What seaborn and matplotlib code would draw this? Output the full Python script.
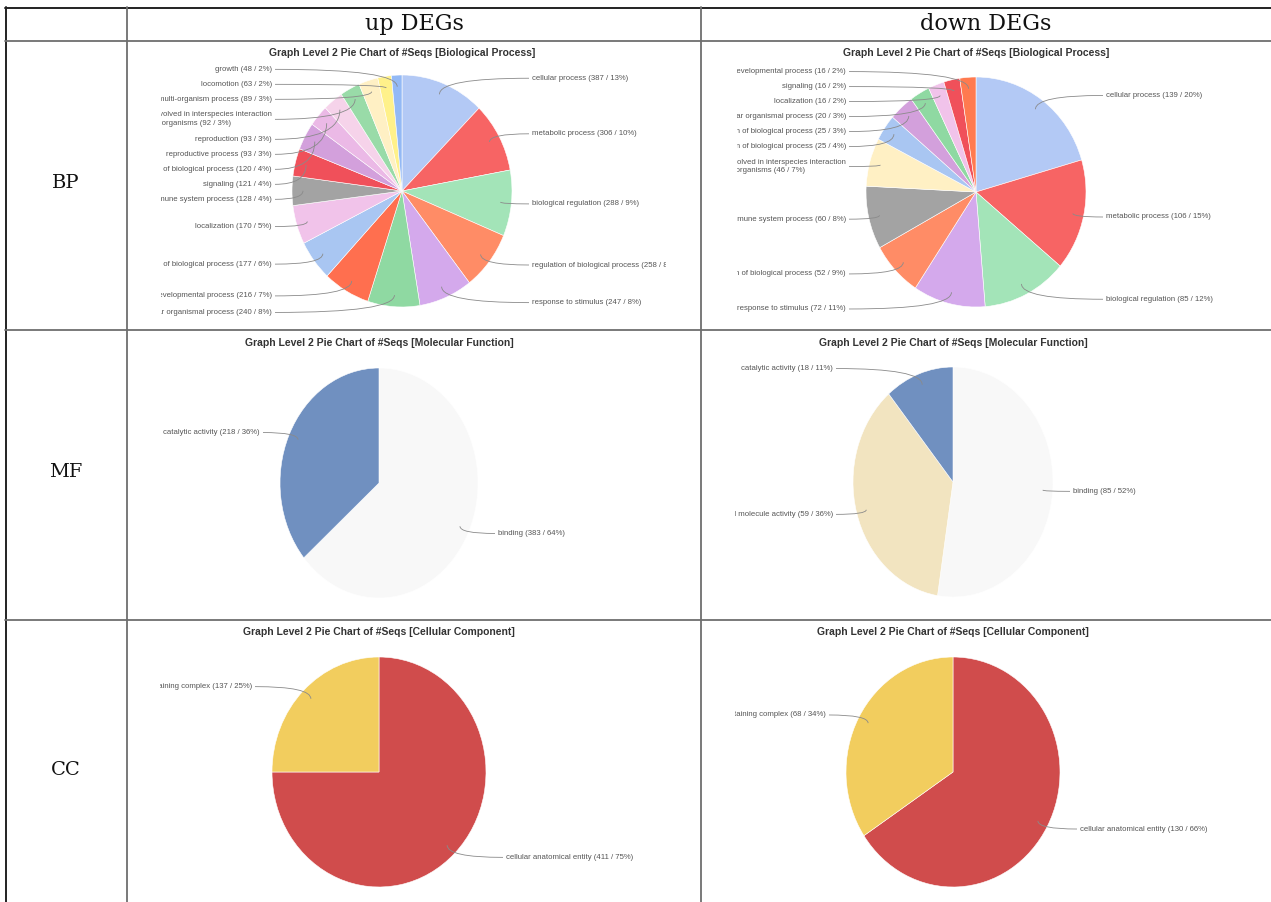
import numpy as np
import matplotlib
matplotlib.use("Agg")
import matplotlib.pyplot as plt
from matplotlib.path import Path
from matplotlib.patches import PathPatch
import seaborn as sns

W, H = 1271, 902

# ---------------------------------------------------------------- data
bp_up_terms = ["cellular process", "metabolic process", "biological regulation",
               "regulation of biological process", "response to stimulus",
               "multicellular organismal process", "developmental process",
               "negative regulation of biological process", "localization",
               "immune system process", "signaling",
               "positive regulation of biological process", "reproductive process",
               "reproduction",
               "biological process involved in interspecies interaction\nbetween organisms",
               "multi-organism process", "locomotion", "growth"]
bp_up_counts = [387, 306, 288, 258, 247, 240, 216, 177, 170, 128, 121, 120, 93, 93, 92, 89, 63, 48]
bp_up_pcts = [13, 10, 9, 8, 8, 8, 7, 6, 5, 4, 4, 4, 3, 3, 3, 3, 2, 2]

bp_down_terms = ["cellular process", "metabolic process", "biological regulation",
                 "response to stimulus", "regulation of biological process",
                 "immune system process",
                 "biological process involved in interspecies interaction\nbetween organisms",
                 "negative regulation of biological process",
                 "positive regulation of biological process",
                 "multicellular organismal process", "localization", "signaling",
                 "developmental process"]
bp_down_counts = [139, 106, 85, 72, 52, 60, 46, 25, 25, 20, 16, 16, 16]
bp_down_pcts = [20, 15, 12, 11, 9, 8, 7, 4, 3, 3, 2, 2, 2]

mf_up_terms = ["binding", "catalytic activity"]
mf_up_counts = [383, 218]
mf_up_pcts = [64, 36]

mf_down_terms = ["binding", "structural molecule activity", "catalytic activity"]
mf_down_counts = [85, 59, 18]
mf_down_pcts = [52, 36, 11]

cc_up_terms = ["cellular anatomical entity", "protein-containing complex"]
cc_up_counts = [411, 137]
cc_up_pcts = [75, 25]

cc_down_terms = ["cellular anatomical entity", "protein-containing complex"]
cc_down_counts = [130, 68]
cc_down_pcts = [66, 34]

col_headers = ["up DEGs", "down DEGs"]
row_headers = ["BP", "MF", "CC"]
titles = ["Graph Level 2 Pie Chart of #Seqs [Biological Process]",
          "Graph Level 2 Pie Chart of #Seqs [Molecular Function]",
          "Graph Level 2 Pie Chart of #Seqs [Cellular Component]"]

# ---------------------------------------------------------------- colours
bp_up_colors = ["#b3c9f5", "#f76464", "#a3e4b8", "#ff8c66", "#d4a9ec", "#8fd9a2",
                "#ff6f4f", "#a9c6f2", "#f1c3ea", "#a3a3a3", "#f0505a", "#d3a0dc",
                "#ebb9e6", "#f6d3ea", "#99dba8", "#fff0c4", "#fff18a", "#93b9f5"]
bp_down_colors = ["#b3c9f5", "#f76464", "#a3e4b8", "#d4a9ec", "#ff8c66", "#a3a3a3",
                  "#fff0c4", "#a9c6f2", "#d3a0dc", "#8fd9a2", "#f1c3ea", "#f0505a",
                  "#ff7a4f"]
mf_up_colors = ["#f8f8f8", "#7090c0"]
mf_down_colors = ["#f8f8f8", "#f2e4c0", "#7090c0"]
cc_colors = ["#d04c4c", "#f2cd5e"]

sns.set_theme(style="white")
plt.rcParams['font.family'] = ['Liberation Sans', 'DejaVu Sans']

fig = plt.figure(figsize=(W / 100, H / 100), dpi=100)


def px_axes(x0, y0, x1, y1):
    return fig.add_axes([x0 / W, 1 - y1 / H, (x1 - x0) / W, (y1 - y0) / H])


#=====================================================================
# table grid
grid = px_axes(0, 0, W, H)
grid.set_xlim(0, W)
grid.set_ylim(H, 0)
grid.axis('off')

grid.plot([5, W], [7.5, 7.5], color='#222222', lw=1.4)
grid.plot([5.5, 5.5], [7, H], color='#222222', lw=1.4)
for x in (127, 701):
    grid.plot([x, x], [7, H], color='#6e6e6e', lw=1.3)
for y in (41, 330, 620):
    grid.plot([5, W], [y, y], color='#6e6e6e', lw=1.3)

for x, txt in zip((414, 986), col_headers):
    grid.text(x, 24, txt, family='DejaVu Serif', fontsize=16, ha='center', va='center',
              color='#111111')
for y, txt in zip((183, 472, 770), row_headers):
    grid.text(66, y, txt, family='DejaVu Serif', fontsize=14, ha='center', va='center',
              color='#111111')


#=====================================================================
# one pie per cell
def draw_pie(cell, center, radii, title_y, title, terms, counts, pcts, colors):
    x0, y0, x1, y1 = cell
    cx, cy = center
    rx, ry = radii
    ax = px_axes(x0, y0, x1, y1)
    wedges, _ = ax.pie(counts, colors=colors, startangle=90, counterclock=False,
                       wedgeprops=dict(edgecolor='white', linewidth=0.4))
    ax.set_aspect('auto')
    ax.set_xlim((x0 - cx) / rx, (x1 - cx) / rx)
    ax.set_ylim((cy - y1) / ry, (cy - y0) / ry)

    ax.text(0, (cy - title_y) / ry, title, ha='center', va='center', fontsize=7.5,
            fontweight='bold', color='#333333')

    items = []
    for w, term, n, p in zip(wedges, terms, counts, pcts):
        mid = np.deg2rad((w.theta1 + w.theta2) / 2)
        ux, uy = np.cos(mid), np.sin(mid)
        text = f"{term} ({n} / {p}%)"
        nlines = text.count('\n') + 1
        items.append(dict(ux=ux, uy=uy, side=1 if ux >= 0 else -1,
                          want=cy - 1.05 * ry * uy, h=10 * nlines + 5, text=text))

    for side in (1, -1):
        grp = sorted([it for it in items if it['side'] == side], key=lambda it: it['want'])
        prev = None
        for it in grp:
            y = it['want']
            if prev is not None:
                y = max(y, prev['y'] + (prev['h'] + it['h']) / 2)
            it['y'] = y
            prev = it
        nxt = None
        for it in reversed(grp):
            lim = y1 - 10 if nxt is None else nxt['y'] - (nxt['h'] + it['h']) / 2
            it['y'] = min(it['y'], lim)
            nxt = it

    for it in items:
        side = it['side']
        tx = cx + side * (rx + 20)
        ly = (cy - it['y']) / ry
        ax.text((tx - cx) / rx, ly, it['text'], ha='left' if side > 0 else 'right',
                va='center', multialignment='center', linespacing=1.35, fontsize=5.6,
                color='#555555', clip_on=True)
        axx, ayy = 0.9 * it['ux'], 0.9 * it['uy']
        ex = (tx - side * 3 - cx) / rx
        path = Path([(axx, ayy), (axx, ly), (ex, ly)],
                    [Path.MOVETO, Path.CURVE3, Path.CURVE3])
        ax.add_patch(PathPatch(path, facecolor='none', edgecolor='#8a8a8a', lw=0.6,
                               clip_on=True))
    return ax


draw_pie((161, 43, 666, 329), (402, 191), (110, 116), 53, titles[0],
         bp_up_terms, bp_up_counts, bp_up_pcts, bp_up_colors)
draw_pie((737, 43, 1268, 329), (976, 192), (110, 115), 53, titles[0],
         bp_down_terms, bp_down_counts, bp_down_pcts, bp_down_colors)
draw_pie((160, 332, 699, 619), (379, 483), (99, 115), 343, titles[1],
         mf_up_terms, mf_up_counts, mf_up_pcts, mf_up_colors)
draw_pie((735, 332, 1268, 619), (953, 482), (100, 115), 343, titles[1],
         mf_down_terms, mf_down_counts, mf_down_pcts, mf_down_colors)
draw_pie((160, 622, 699, 902), (379, 772), (107, 115), 632, titles[2],
         cc_up_terms, cc_up_counts, cc_up_pcts, cc_colors)
draw_pie((735, 622, 1268, 902), (953, 772), (107, 115), 632, titles[2],
         cc_down_terms, cc_down_counts, cc_down_pcts, cc_colors)

fig.savefig("out.png", dpi=100)
